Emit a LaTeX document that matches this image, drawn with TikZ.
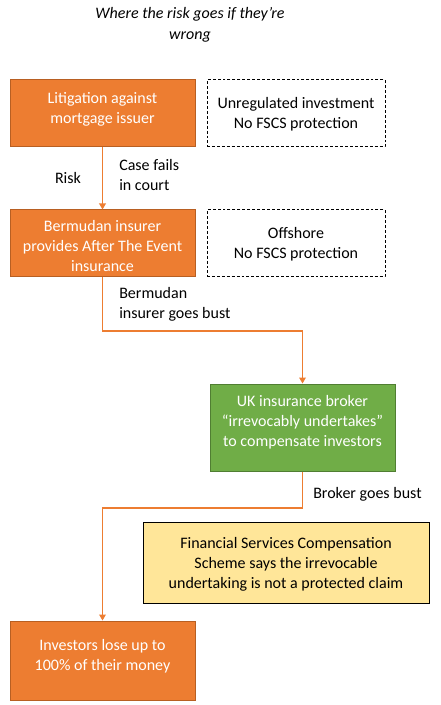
\documentclass[tikz,border=0pt]{standalone}
\usepackage{fontspec}
\setmainfont{Carlito}
\usepackage{xcolor}
\usetikzlibrary{arrows.meta}
\definecolor{boxorange}{HTML}{ED7D31}
\definecolor{boxorangeline}{HTML}{B85F22}
\definecolor{boxgreen}{HTML}{70AD47}
\definecolor{boxgreenline}{HTML}{507E32}
\definecolor{boxyellow}{HTML}{FFE699}
\tikzset{
  txt/.style={font=\fontsize{12}{15}\selectfont, align=center, inner sep=0},
  boxorangestyle/.style={draw=boxorangeline, fill=boxorange, line width=0.75pt, inner sep=0},
  boxgreenstyle/.style={draw=boxgreenline, fill=boxgreen, line width=0.75pt, inner sep=0},
  notebox/.style={draw=black, dash pattern=on 2.2pt off 1.5pt, line width=0.75pt, inner sep=0},
  claimbox/.style={draw=black, fill=boxyellow, line width=0.75pt, inner sep=0},
  flow/.style={draw=boxorange, line width=0.9pt, -{Triangle[width=5pt,length=4.5pt]}},
}
\begin{document}
\begin{tikzpicture}[x=0.75pt,y=-0.75pt]
\useasboundingbox (0,0) rectangle (440,705);
% title
\node[txt, font=\fontsize{12}{15.75}\selectfont\itshape] (title) at (190,24.5) {Where the risk goes if they’re\\wrong};
% boxes
\node[boxorangestyle, minimum width=138.75pt, minimum height=50.25pt] (litig) at (102.5,113.5) {};
\node[txt, white] (litig-text) at (102.5,109) {Litigation against\\mortgage issuer};
\node[notebox, minimum width=133.5pt, minimum height=50.25pt] (unreg) at (296,113.5) {};
\node[txt] (unreg-text) at (296,114.5) {Unregulated investment\\No FSCS protection};
\node[boxorangestyle, minimum width=138.75pt, minimum height=50.25pt] (insurer) at (102.5,243.5) {};
\node[txt, white] (insurer-text) at (102.5,246) {Bermudan insurer\\provides After The Event\\insurance};
\node[notebox, minimum width=133.5pt, minimum height=50.25pt] (offshore) at (296,243.5) {};
\node[txt] (offshore-text) at (296,244.5) {Offshore\\No FSCS protection};
\node[boxgreenstyle, minimum width=138.75pt, minimum height=65.25pt] (broker) at (302.5,427.5) {};
\node[txt, white] (broker-text) at (302.5,422.5) {UK insurance broker\\“irrevocably undertakes”\\to compensate investors};
\node[claimbox, minimum width=214.5pt, minimum height=60.75pt] (fscs) at (286,562.5) {};
\node[txt] (fscs-text) at (286,564) {Financial Services Compensation\\Scheme says the irrevocable\\undertaking is not a protected claim};
\node[boxorangestyle, minimum width=138.75pt, minimum height=59.25pt] (lose) at (102.5,660.5) {};
\node[txt, white] (lose-text) at (102.5,656) {Investors lose up to\\100\% of their money};
% connectors
\coordinate (bend1) at (102.5,331);
\coordinate (bend2) at (302.5,508);
\draw[flow] (litig.south) -- (insurer.north);
\draw[flow] (insurer.south) -- (bend1) -| (broker.north);
\draw[flow] (broker.south) -- (bend2) -| (lose.north);
% labels
\node[txt] (risk) at (68,178) {Risk};
\node[txt, align=left, anchor=west] (fails) at (119,175.5) {Case fails\\in court};
\node[txt, align=left, anchor=west] (bust1) at (119,304.5) {Bermudan\\insurer goes bust};
\node[txt, anchor=west] (bust2) at (313,494) {Broker goes bust};
\end{tikzpicture}
\end{document}
